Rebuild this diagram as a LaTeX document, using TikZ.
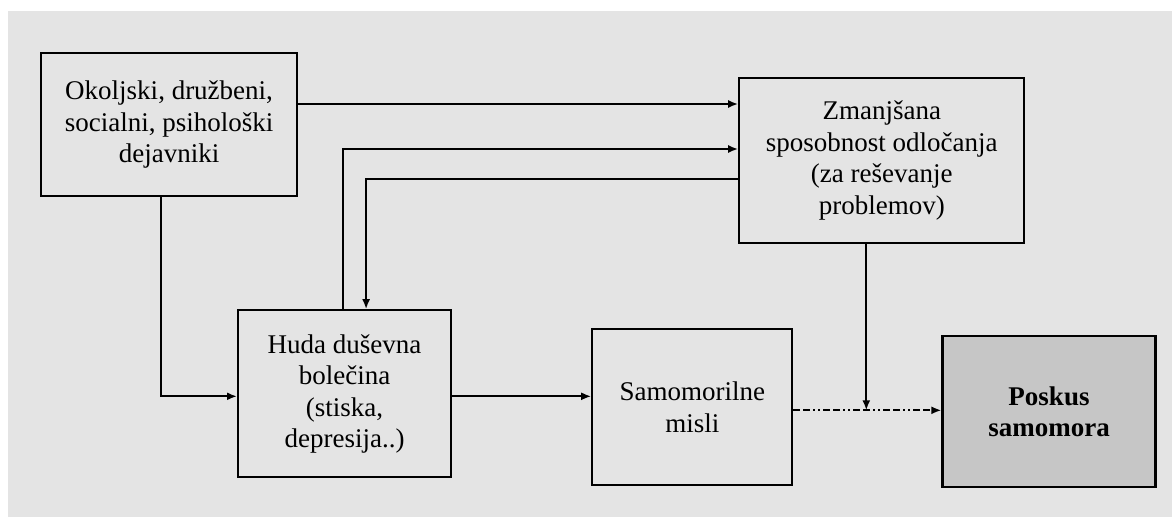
\documentclass[tikz,border=0pt]{standalone}
\usepackage{fontspec}
\setmainfont{Liberation Serif}
\usepackage{tikz}
\usetikzlibrary{calc,arrows.meta}

\definecolor{bggray}{HTML}{E4E4E4}
\definecolor{boxgray}{HTML}{C6C6C6}

\tikzset{
  box/.style={draw, line width=2.2pt, align=center, inner sep=0pt,
    font=\fontsize{27}{31.5}\selectfont},
  arr/.style={line width=2pt, -{Latex[length=10pt,width=8pt]}},
  dotdash/.style={dash pattern=on 7pt off 3pt on 7pt off 3pt on 2pt off 3pt on 2pt off 3pt}
}

\begin{document}
\begin{tikzpicture}[x=1pt,y=-1pt]
\useasboundingbox (0,0) rectangle (1172,517);
\fill[bggray] (8,11) rectangle (1172,517);

\node[box, minimum width=256pt, minimum height=143pt, anchor=north west] at (40,52) (okol)
  {Okoljski, družbeni,\\socialni, psihološki\\dejavniki};
\node[box, minimum width=285pt, minimum height=165pt, anchor=north west] at ($(okol.north east)+(440,25)$) (zman)
  {Zmanjšana\\sposobnost odločanja\\(za reševanje\\problemov)};
\node[box, minimum width=213pt, minimum height=167pt, anchor=north west] at ($(okol.south west)+(197,112)$) (huda)
  {Huda duševna\\bolečina\\(stiska,\\depresija..)};
\node[box, minimum width=200pt, minimum height=156pt, anchor=north west] at ($(huda.north east)+(139,19)$) (samo)
  {Samomorilne\\misli};
\node[box, fill=boxgray, minimum width=213pt, minimum height=151pt, anchor=north west] at ($(samo.north east)+(148,7)$) (posk)
  {\textbf{Poskus}\\\textbf{samomora}};

% connectors
\coordinate (a1) at ($(okol.north east)+(0,52)$);
\draw[arr] (a1) -- (a1 -| zman.west);
\draw[arr] ($(huda.north)+(-2,0)$) |- ($(zman.north west)+(0,72)$);
\draw[arr] ($(zman.north west)+(0,102)$) -| ($(huda.north)+(21.5,0)$);
\draw[arr] ($(okol.south)+(-8,0)$) |- ($(huda.west)+(0,2.5)$);
\coordinate (h1) at ($(huda.east)+(0,2.5)$);
\draw[arr] (h1) -- (h1 -| samo.west);
\coordinate (s1) at ($(samo.east)+(0,3)$);
\draw[arr,dotdash] (s1) -- (s1 -| posk.west);
\coordinate (z1) at ($(zman.south)+(-15.5,0)$);
\draw[arr] (z1) -- (z1 |- s1);
\end{tikzpicture}
\end{document}
